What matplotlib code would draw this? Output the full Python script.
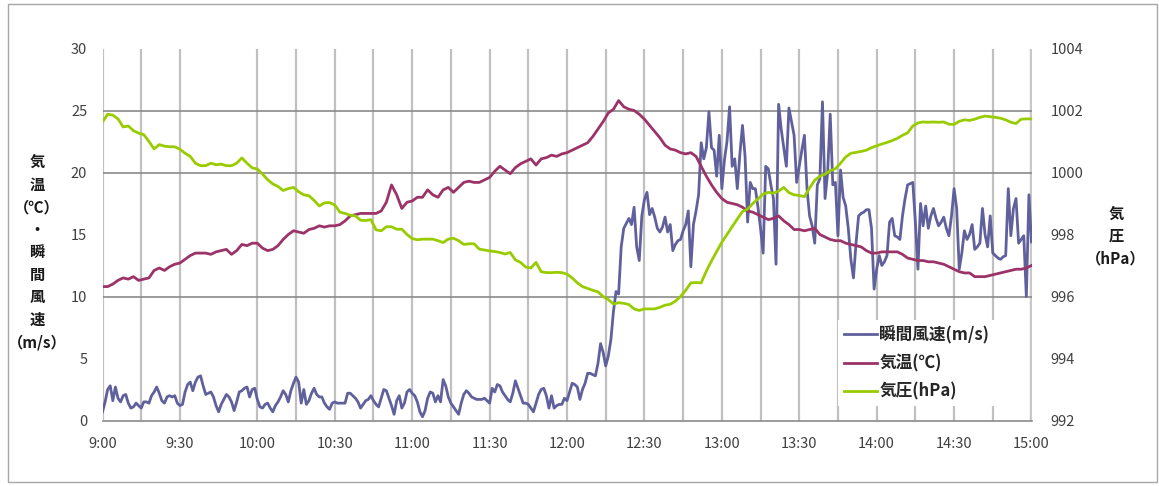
import matplotlib
matplotlib.use('Agg')
import matplotlib.pyplot as plt
import numpy as np
from matplotlib.patches import Rectangle

plt.rcParams['font.family'] = ['Noto Sans CJK JP', 'DejaVu Sans']

# ---------------- data ----------------
tick_labels = ["9:00", "9:30", "10:00", "10:30", "11:00", "11:30", "12:00",
               "12:30", "13:00", "13:30", "14:00", "14:30", "15:00"]

# 瞬間風速 (m/s), 1-minute values from 9:00 to 15:00
wind = [
    0.7, 1.5, 2.5, 2.8, 1.6, 2.7, 1.8, 1.5, 2.0, 2.1,
    1.4, 1.0, 1.1, 1.4, 1.2, 1.0, 1.5, 1.5, 1.4, 2.0,
    2.3, 2.7, 2.2, 1.6, 1.4, 1.9, 2.0, 1.9, 2.0, 1.4,
    1.2, 1.3, 2.3, 2.9, 3.1, 2.4, 3.1, 3.5, 3.6, 2.8,
    2.1, 2.2, 2.3, 1.9, 1.2, 0.7, 1.3, 1.7, 2.1, 1.9,
    1.5, 0.8, 1.5, 2.3, 2.4, 2.6, 2.7, 1.9, 2.5, 2.6,
    1.7, 1.1, 1.0, 1.3, 1.4, 1.0, 0.7, 1.2, 1.5, 1.9,
    2.4, 2.1, 1.5, 2.4, 3.0, 3.5, 3.1, 1.4, 2.5, 1.3,
    1.6, 2.2, 2.6, 2.1, 1.9, 1.9, 1.4, 1.1, 0.9, 1.4,
    1.5, 1.4, 1.4, 1.4, 1.4, 2.2, 2.2, 2.0, 1.8, 1.5,
    1.0, 1.3, 1.6, 1.7, 2.0, 1.6, 1.3, 1.1, 1.8, 2.5,
    2.4, 1.8, 1.2, 0.5, 1.6, 2.0, 1.0, 1.4, 2.3, 2.5,
    2.2, 2.0, 1.5, 0.7, 0.3, 0.8, 1.8, 2.3, 2.2, 1.5,
    2.0, 1.5, 3.3, 2.8, 1.9, 1.4, 1.1, 0.8, 0.5, 1.4,
    2.1, 2.4, 2.2, 1.9, 1.8, 1.7, 1.7, 1.7, 1.8, 1.6,
    1.4, 2.6, 2.3, 2.9, 2.8, 2.3, 2.0, 1.7, 1.5, 2.2,
    3.2, 2.6, 2.0, 1.4, 1.4, 1.3, 1.0, 0.7, 1.4, 2.1,
    2.5, 2.6, 2.0, 1.0, 2.0, 1.0, 1.2, 1.3, 1.3, 1.8,
    1.6, 2.3, 3.0, 2.9, 2.7, 1.7, 2.5, 3.0, 3.8, 3.8,
    3.7, 3.6, 4.6, 6.2, 5.5, 4.4, 5.2, 6.5, 8.8, 10.4,
    10.2, 14.0, 15.5, 15.9, 16.3, 15.8, 17.2, 14.0, 12.9, 16.5,
    17.8, 18.4, 16.6, 17.1, 16.4, 15.5, 15.2, 15.6, 16.4, 15.2,
    15.8, 13.7, 14.2, 14.5, 14.6, 15.3, 15.8, 16.9, 12.4, 15.8,
    16.9, 18.2, 22.4, 21.1, 22.0, 24.9, 22.0, 21.8, 19.7, 23.0,
    18.7, 21.0, 22.5, 25.3, 20.5, 21.1, 18.7, 21.5, 23.8, 21.3,
    16.0, 19.2, 18.7, 18.7, 17.2, 15.5, 13.5, 20.5, 20.3, 19.0,
    17.9, 12.6, 25.5, 23.5, 22.0, 20.5, 25.2, 24.1, 23.0, 19.2,
    20.5, 21.8, 23.0, 18.7, 16.5, 15.7, 14.3, 19.0, 19.5, 25.7,
    17.9, 20.0, 24.7, 19.0, 19.2, 14.9, 20.2, 18.0, 17.3, 15.5,
    13.0, 11.5, 14.3, 16.5, 16.7, 16.8, 17.0, 17.0, 15.5, 10.6,
    12.2, 13.3, 12.5, 12.8, 13.3, 16.0, 16.3, 14.9, 14.8, 14.6,
    16.5, 17.9, 19.0, 19.1, 19.2, 16.0, 12.2, 17.5, 15.7, 17.3,
    15.5, 16.5, 17.1, 16.3, 15.7, 16.0, 16.4, 15.5, 14.9, 16.5,
    18.7, 17.1, 12.2, 13.5, 15.3, 14.6, 15.0, 15.8, 13.8, 14.0,
    14.3, 17.1, 15.0, 14.0, 16.5, 13.5, 13.3, 13.1, 13.0, 13.2,
    13.3, 18.7, 14.9, 17.1, 17.9, 14.3, 14.6, 14.9, 10.0, 18.2,
    14.4,
]

# 気温 (°C), 2-minute values
temperature = [
    10.8, 10.8, 11.0, 11.3, 11.5, 11.4, 11.6, 11.3, 11.4, 11.5,
    12.1, 12.3, 12.1, 12.4, 12.6, 12.7, 13.0, 13.3, 13.5, 13.5,
    13.5, 13.4, 13.6, 13.7, 13.8, 13.4, 13.7, 14.2, 14.1, 14.3,
    14.3, 13.9, 13.7, 13.8, 14.1, 14.6, 15.0, 15.3, 15.2, 15.1,
    15.4, 15.5, 15.7, 15.6, 15.7, 15.7, 15.8, 16.1, 16.5, 16.6,
    16.7, 16.7, 16.7, 16.7, 16.9, 17.6, 19.0, 18.2, 17.1, 17.6,
    17.7, 18.0, 18.0, 18.6, 18.2, 18.0, 18.6, 18.8, 18.4, 18.8,
    19.2, 19.3, 19.2, 19.2, 19.4, 19.6, 20.1, 20.5, 20.2, 19.9,
    20.4, 20.7, 20.9, 21.1, 20.6, 21.1, 21.2, 21.4, 21.3, 21.5,
    21.6, 21.8, 22.0, 22.2, 22.4, 22.9, 23.5, 24.1, 24.8, 25.1,
    25.8, 25.3, 25.1, 25.0, 24.7, 24.3, 23.8, 23.3, 22.8, 22.2,
    21.9, 21.8, 21.6, 21.5, 21.6, 21.3, 20.5, 19.7, 19.0, 18.4,
    17.9, 17.6, 17.5, 17.4, 17.2, 16.9, 16.8, 16.6, 16.4, 16.2,
    16.3, 16.5, 16.1, 15.8, 15.4, 15.4, 15.3, 15.4, 15.5, 15.0,
    14.8, 14.6, 14.5, 14.5, 14.3, 14.2, 14.1, 14.0, 13.7, 13.5,
    13.5, 13.6, 13.6, 13.6, 13.6, 13.4, 13.1, 13.0, 12.9, 12.9,
    12.8, 12.8, 12.7, 12.6, 12.4, 12.2, 12.0, 11.9, 11.9, 11.6,
    11.6, 11.6, 11.7, 11.8, 11.9, 12.0, 12.1, 12.2, 12.2, 12.3,
    12.5,
]

# 気圧 (hPa), 2-minute values
pressure = [
    1001.63, 1001.88, 1001.85, 1001.73, 1001.47, 1001.5, 1001.35, 1001.27, 1001.22, 1001.0,
    1000.76, 1000.9, 1000.85, 1000.83, 1000.83, 1000.75, 1000.62, 1000.52, 1000.3, 1000.22,
    1000.22, 1000.3, 1000.25, 1000.27, 1000.22, 1000.22, 1000.3, 1000.47, 1000.3, 1000.15,
    1000.11, 999.95, 999.77, 999.63, 999.55, 999.42, 999.48, 999.52, 999.38, 999.28,
    999.25, 999.1, 998.92, 999.02, 999.03, 998.95, 998.72, 998.68, 998.62, 998.6,
    998.46, 998.45, 998.48, 998.15, 998.12, 998.25, 998.25, 998.17, 998.17, 998.0,
    997.87, 997.83, 997.85, 997.85, 997.85, 997.8, 997.74, 997.85, 997.88, 997.8,
    997.68, 997.7, 997.7, 997.53, 997.5, 997.47, 997.45, 997.42, 997.37, 997.42,
    997.18, 997.1, 996.95, 996.92, 997.1, 996.8, 996.77, 996.77, 996.78, 996.77,
    996.72, 996.6, 996.44, 996.32, 996.26, 996.2, 996.15, 996.0, 995.9, 995.76,
    995.8, 995.78, 995.74, 995.6, 995.55, 995.6, 995.6, 995.6, 995.65, 995.72,
    995.75, 995.85, 996.0, 996.2, 996.44, 996.45, 996.44, 996.82, 997.15, 997.45,
    997.75, 998.0, 998.25, 998.5, 998.74, 998.82, 999.0, 999.15, 999.3, 999.36,
    999.33, 999.4, 999.52, 999.35, 999.28, 999.26, 999.22, 999.5, 999.75, 999.88,
    999.95, 1000.06, 1000.12, 1000.3, 1000.5, 1000.62, 1000.65, 1000.68, 1000.72, 1000.8,
    1000.86, 1000.92, 1000.97, 1001.03, 1001.1, 1001.2, 1001.28, 1001.5, 1001.6, 1001.63,
    1001.62, 1001.63, 1001.62, 1001.63, 1001.56, 1001.55, 1001.65, 1001.7, 1001.68, 1001.72,
    1001.78, 1001.82, 1001.8, 1001.78, 1001.75, 1001.7, 1001.62, 1001.58, 1001.72, 1001.73,
    1001.73,
]

series_labels = ["瞬間風速(m/s)", "気温(℃)", "気圧(hPa)"]

assert len(wind) == 361, len(wind)
assert len(temperature) == 181, len(temperature)
assert len(pressure) == 181, len(pressure)

t_wind = np.arange(len(wind))            # minutes after 9:00
t_2min = np.arange(len(temperature)) * 2  # minutes after 9:00

# ---------------- figure ----------------
W, H = 1159, 486
fig = plt.figure(figsize=(W / 100, H / 100), dpi=100)
fig.patch.set_facecolor('white')
ax = fig.add_axes([102.5 / W, 65.5 / H, 929 / W, 372 / H])
ax2 = ax.twinx()

C_WIND = '#60609c'
C_TEMP = '#9c3368'
C_PRES = '#99cc00'
GRID_V = '#c0c0c0'
GRID_H = '#8a8a8a'
TXT = '#404040'

ax.set_xlim(0, 360)
ax.set_ylim(0, 30)
ax2.set_ylim(992, 1004)

# vertical gridlines every 15 min (the 9:45 line is absent in the original)
for m in range(0, 361, 15):
    if m == 45:
        continue
    if m == 360:
        ax.axvline(m, color='#c8c8c8', lw=3.2, zorder=0.5)
    else:
        ax.axvline(m, color=GRID_V, lw=1.6, zorder=0.5)
for v in (10, 20, 25):
    ax.axhline(v, color=GRID_H, lw=1.2, zorder=0.6)

l_wind, = ax.plot(t_wind, wind, color=C_WIND, lw=2.0, zorder=2)
l_temp, = ax.plot(t_2min, temperature, color=C_TEMP, lw=2.0, zorder=3)
l_pres, = ax2.plot(t_2min, pressure, color=C_PRES, lw=2.0, zorder=3)

for sp in ('top', 'left', 'right'):
    ax.spines[sp].set_visible(False)
ax.spines['bottom'].set_color(GRID_H)
ax.spines['bottom'].set_linewidth(1.2)
for sp in ax2.spines.values():
    sp.set_visible(False)

ax.set_xticks(np.arange(0, 361, 30))
ax.set_xticklabels(tick_labels)
ax.set_yticks(np.arange(0, 31, 5))
ax.tick_params(axis='x', length=0, pad=12, labelsize=10.5, labelcolor=TXT)
ax.tick_params(axis='y', length=0, pad=11, labelsize=10.5, labelcolor=TXT)

ax2.set_yticks(np.arange(992, 1005, 2))
ax2.tick_params(axis='y', which='major', length=0, pad=13.5, labelsize=10.5, labelcolor=TXT)
ax2.set_yticks([992, 996, 1000, 1002], minor=True)
ax2.tick_params(axis='y', which='minor', length=6, width=1.2, color=GRID_H, direction='out')

# axis titles (vertical stacked)
fig.text(37 / W, 1 - 252 / H, "気\n温\n（℃）\n・\n瞬\n間\n風\n速\n（m/s）",
         ha='center', va='center', fontsize=11, fontweight='bold',
         linespacing=1.5, multialignment='center', color='#1a1a1a')
fig.text(1116 / W, 1 - 236 / H, "気\n圧\n（hPa）",
         ha='center', va='center', fontsize=11, fontweight='bold',
         linespacing=1.5, multialignment='center', color='#1a1a1a')

leg = ax2.legend([l_wind, l_temp, l_pres], series_labels,
                 loc='upper left', bbox_to_anchor=(838 / W, 1 - 320 / H),
                 bbox_transform=fig.transFigure, frameon=True, facecolor='white',
                 edgecolor='none', framealpha=1, fancybox=False,
                 prop={'size': 12, 'weight': 'bold'},
                 handlelength=2.0, handletextpad=0.12, labelspacing=0.6,
                 borderpad=0.35, borderaxespad=0)
for txt in leg.get_texts():
    txt.set_color('#262626')
leg.set_zorder(10)

# chart-area border
fig.patches.append(Rectangle((7.5 / W, 4 / H), (1156.5 - 7.5) / W, (482 - 4) / H,
                             transform=fig.transFigure, fill=False,
                             edgecolor='#a6a6a6', lw=1.0))

fig.savefig('out.png', dpi=100)
